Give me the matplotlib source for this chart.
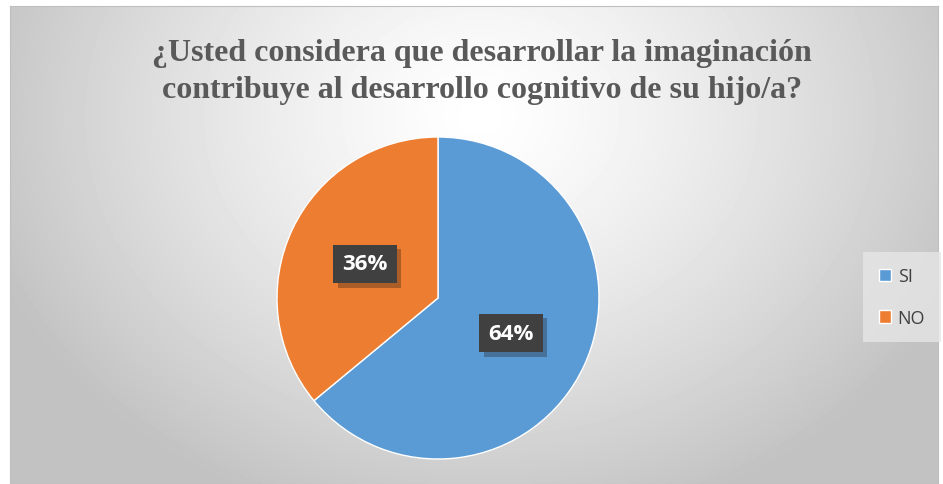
import numpy as np
import matplotlib.pyplot as plt
import matplotlib.patheffects as pe

labels = ['SI', 'NO']
values = [64, 36]
colors = ['#5B9BD5', '#ED7D31']
title = '¿Usted considera que desarrollar la imaginación\ncontribuye al desarrollo cognitivo de su hijo/a?'

W, H = 943, 485
fig = plt.figure(figsize=(W / 100, H / 100), dpi=100)
fig.patch.set_facecolor('white')

# chart area with radial gray gradient
bg = fig.add_axes([10 / W, 0, 928 / W, 478 / H])
yy, xx = np.mgrid[0:478, 0:928]
r = np.sqrt(((xx - 470) / 520) ** 2 + ((yy - 110) / 420) ** 2)
shade = np.clip(1.0 - 0.24 * r ** 1.3, 0.76, 1.0)
bg.imshow(shade, cmap='gray', vmin=0, vmax=1, aspect='auto', extent=[0, 928, 478, 0])
bg.set_xticks([])
bg.set_yticks([])
for s in bg.spines.values():
    s.set_color('#bfbfbf')

fig.text(482 / W, 1 - 72 / H, title, ha='center', va='center', fontsize=23,
         fontweight='bold', family='Liberation Serif', color='#595959', linespacing=1.4)

# pie
R = 161
ax = fig.add_axes([(438 - R) / W, 1 - (299 + R) / H, 2 * R / W, 2 * R / H])
wedges, _ = ax.pie(values, colors=colors, startangle=90, counterclock=False,
                   wedgeprops=dict(edgecolor='white', linewidth=1))
ax.set_xlim(-1, 1)
ax.set_ylim(-1, 1)
ax.set_aspect('equal')

label_pos = [(511, 334), (365, 265)]
for v, (px, py) in zip(values, label_pos):
    fig.text(px / W, 1 - py / H, f'{v}%', ha='center', va='center', fontsize=16,
             fontweight='bold', family='Open Sans', color='white',
             bbox=dict(boxstyle='square,pad=0.4', facecolor='#404040', edgecolor='none',
                       path_effects=[pe.withSimplePatchShadow(offset=(3, -3), alpha=0.3)]))

leg = fig.legend(wedges, labels, loc='center', bbox_to_anchor=(902 / W, 1 - 298 / H),
                 frameon=True, handlelength=0.7, handleheight=0.7,
                 labelspacing=1.3, borderpad=0.55, handletextpad=0.35,
                 prop=dict(family='Open Sans', size=13))
leg.get_frame().set_facecolor('#e6e6e6')
leg.get_frame().set_edgecolor('none')
leg.get_frame().set_boxstyle('square')
for t in leg.get_texts():
    t.set_color('#404040')

fig.savefig('out.png', dpi=100)
